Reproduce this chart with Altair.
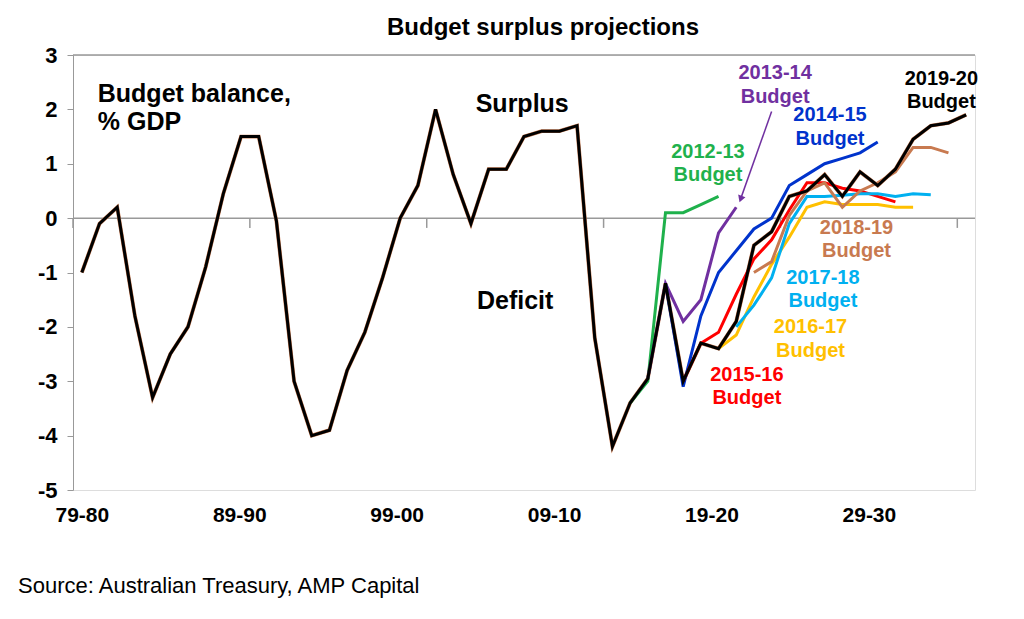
import altair as alt
import pandas as pd

# year index 0 = 1979-80
history = [-1.0, -0.1, 0.2, -1.8, -3.3, -2.5, -2.0, -0.9, 0.45, 1.5, 1.5, -0.05, -3.0, -4.0,
           -3.9, -2.8, -2.1, -1.1, 0.0, 0.6, 2.0, 0.8, -0.1, 0.9, 0.9, 1.5, 1.6, 1.6, 1.7,
           -2.2, -4.2, -3.4, -2.95, -1.2, -3.0, -2.3, -2.4, -1.9, -0.5, -0.25, 0.4, 0.5, 0.8,
           0.4, 0.85, 0.6, 0.9, 1.45, 1.7, 1.75, 1.9]
b1213 = [-3.4, -3.0, 0.1, 0.1, 0.25, 0.4]          # from idx 31
b1314 = [-2.95, -1.2, -1.9, -1.5, -0.27, 0.2]      # from idx 32
b1415 = [-1.2, -3.1, -1.8, -1.0, -0.6, -0.2, 0.0, 0.6, 0.8, 1.0, 1.1, 1.2, 1.4]  # from 33
b1516 = [-3.0, -2.3, -2.1, -1.4, -0.75, -0.4, 0.15, 0.65, 0.65, 0.55, 0.5, 0.4, 0.3]  # from 34
b1617 = [-2.4, -2.15, -1.45, -0.85, -0.35, 0.2, 0.3, 0.25, 0.25, 0.25, 0.2, 0.2]  # from 36
b1718 = [-2.0, -1.6, -1.1, -0.1, 0.4, 0.4, 0.42, 0.45, 0.45, 0.4, 0.45, 0.43]  # from 37
b1819 = [-1.0, -0.8, 0.05, 0.5, 0.65, 0.2, 0.5, 0.65, 0.85, 1.3, 1.3, 1.2]  # from 38

series = [
    ("2012-13", 31, b1213, "#1fb14c"),
    ("2013-14", 32, b1314, "#7030a0"),
    ("2014-15", 33, b1415, "#0033cc"),
    ("2015-16", 34, b1516, "#ff0000"),
    ("2016-17", 36, b1617, "#ffc000"),
    ("2017-18", 37, b1718, "#00b0f0"),
    ("2018-19", 38, b1819, "#c87a50"),
]

label_vals = [0, 8.9, 17.8, 26.7, 35.6, 44.5]
label_text = ["79-80", "89-90", "99-00", "09-10", "19-20", "29-30"]
tick_pos = [-0.5, 9.5, 19.5, 29.5, 39.5, 49.5]

notes = [
    ("2012-13", 35.4, 1.22, "#1fb14c"), ("Budget", 35.4, 0.79, "#1fb14c"),
    ("2013-14", 39.2, 2.66, "#7030a0"), ("Budget", 39.2, 2.22, "#7030a0"),
    ("2014-15", 42.3, 1.9, "#0033cc"), ("Budget", 42.3, 1.46, "#0033cc"),
    ("2019-20", 48.6, 2.55, "black"), ("Budget", 48.6, 2.13, "black"),
    ("2018-19", 43.8, -0.18, "#c87a50"), ("Budget", 43.8, -0.61, "#c87a50"),
    ("2017-18", 41.9, -1.11, "#00b0f0"), ("Budget", 41.9, -1.52, "#00b0f0"),
    ("2016-17", 41.2, -2.01, "#ffc000"), ("Budget", 41.2, -2.44, "#ffc000"),
    ("2015-16", 37.6, -2.88, "#ff0000"), ("Budget", 37.6, -3.31, "#ff0000"),
]
big_notes = [("Surplus", 24.9, 2.1), ("Deficit", 24.5, -1.52)]
left_notes = [("Budget balance,", 0.9, 2.29), ("% GDP", 0.9, 1.77)]

xs = alt.Scale(domain=[-0.5, 50.5], nice=False, zero=False)
ys = alt.Scale(domain=[-5, 3], nice=False)
x_expr = "{" + ",".join(f"'{v}':'{t}'" for v, t in zip(label_vals, label_text)) + "}[datum.value]"

def line(df, color, width=3):
    return alt.Chart(df).mark_line(color=color, strokeWidth=width).encode(
        x=alt.X("i:Q", scale=xs, axis=alt.Axis(values=label_vals, labelExpr=x_expr,
            ticks=False, grid=False, domain=False, title=None, labelFontSize=21,
            labelFontWeight="bold", labelFont="Arial", labelColor="black", labelPadding=14)),
        y=alt.Y("v:Q", scale=ys, axis=alt.Axis(values=list(range(-5, 4)), grid=False, title=None,
            labelExpr="datum.value", labelFontSize=22, labelFontWeight="bold", labelFont="Arial",
            labelColor="black", domainColor="#999", tickColor="#999", tickSize=6, labelPadding=10)),
    )

layers = []
zero = alt.Chart(pd.DataFrame({"i": [-0.5, 50.5], "v": [0, 0]})).mark_line(
    color="#999", strokeWidth=1.5).encode(x=alt.X("i:Q", scale=xs), y=alt.Y("v:Q", scale=ys))
top = alt.Chart(pd.DataFrame({"i": [-0.5, 50.5], "v": [3, 3]})).mark_line(
    color="#999", strokeWidth=1.5).encode(x=alt.X("i:Q", scale=xs), y=alt.Y("v:Q", scale=ys))
ticks = alt.Chart(pd.DataFrame({"i": tick_pos})).mark_rule(color="#999", strokeWidth=1.5).encode(
    x=alt.X("i:Q", scale=xs), y=alt.datum(0), y2=alt.datum(-0.18))
layers += [zero, top, ticks]

hist_df = pd.DataFrame({"i": range(len(history)), "v": history})
layers.append(line(hist_df, "#c87a50", 3.8))
for name, start, vals, col in series:
    df = pd.DataFrame({"i": range(start, start + len(vals)), "v": vals})
    layers.append(line(df, col))
layers.append(line(hist_df, "black", 3))

arrow = alt.Chart(pd.DataFrame({"i": [39.0], "v": [1.96], "i2": [37.3], "v2": [0.4]})).mark_rule(
    color="#7030a0", strokeWidth=1.5).encode(x=alt.X("i:Q", scale=xs), y=alt.Y("v:Q", scale=ys),
                                             x2="i2", y2="v2")
head = alt.Chart(pd.DataFrame({"i": [37.25], "v": [0.35]})).mark_point(
    shape="triangle-down", filled=True, size=60, color="#7030a0", opacity=1, angle=20).encode(
    x=alt.X("i:Q", scale=xs), y=alt.Y("v:Q", scale=ys))
layers += [arrow, head]

nd = pd.DataFrame(notes, columns=["t", "i", "v", "c"])
layers.append(alt.Chart(nd).mark_text(font="Arial", fontWeight="bold", fontSize=20).encode(
    x=alt.X("i:Q", scale=xs), y=alt.Y("v:Q", scale=ys), text="t", color=alt.Color("c:N", scale=None)))
bd = pd.DataFrame(big_notes, columns=["t", "i", "v"])
layers.append(alt.Chart(bd).mark_text(font="Arial", fontWeight="bold", fontSize=25).encode(
    x=alt.X("i:Q", scale=xs), y=alt.Y("v:Q", scale=ys), text="t"))
ld = pd.DataFrame(left_notes, columns=["t", "i", "v"])
layers.append(alt.Chart(ld).mark_text(font="Arial", fontWeight="bold", fontSize=25, align="left").encode(
    x=alt.X("i:Q", scale=xs), y=alt.Y("v:Q", scale=ys), text="t"))
layers.append(alt.Chart(pd.DataFrame({"t": ["Source: Australian Treasury, AMP Capital"]})).mark_text(
    font="Arial", fontSize=22, align="left").encode(x=alt.value(-55), y=alt.value(531), text="t"))

chart = alt.layer(*layers).properties(
    width=902, height=435,
    title=alt.TitleParams("Budget surplus projections", font="Arial", fontSize=24,
                          fontWeight="bold", offset=4, anchor="middle", dx=19),
    autosize=alt.AutoSizeParams(type="none"),
    padding={"left": 65, "top": 47, "right": 41, "bottom": 129},
).configure_view(stroke=None).configure(background="white")

chart.save("out.html", embed_options={"renderer": "svg", "actions": False})
